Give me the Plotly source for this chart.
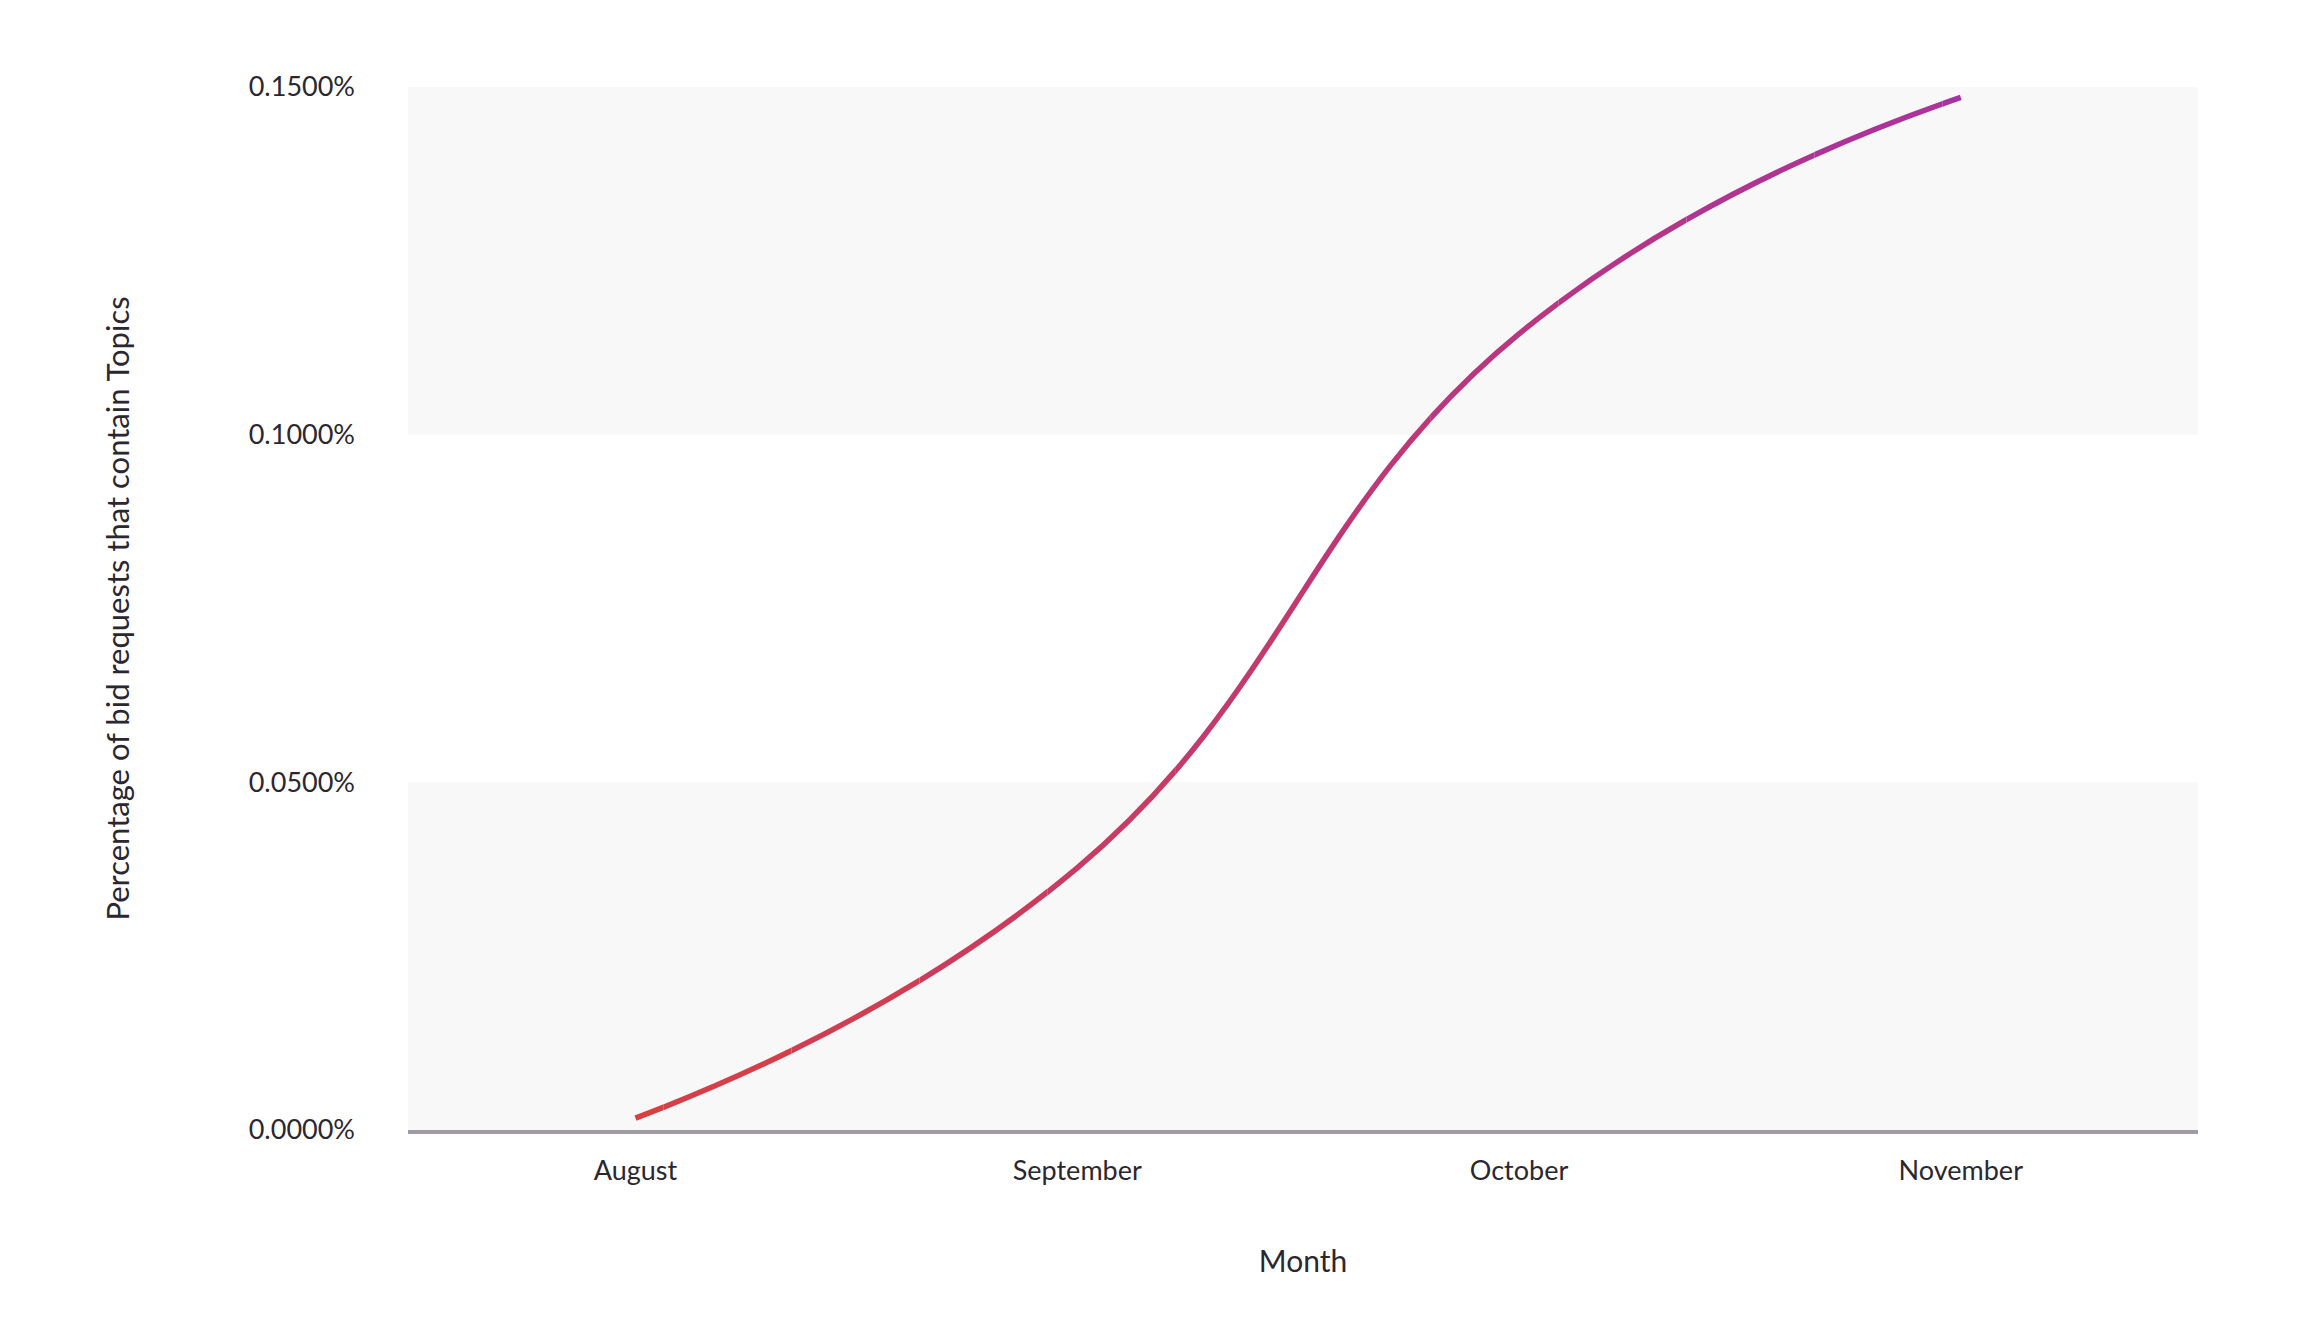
import plotly.graph_objects as go

# data (values in percent)
months = ["August", "September", "October", "November"]
topics_share = [0.0017, 0.0377, 0.1145, 0.1485]
y_ticks = [0.0, 0.05, 0.10, 0.15]

# styling
font_family = "Lato, 'Open Sans', sans-serif"
text_color = "#2b2730"
band_color = "#f8f8f8"
line_start = (224, 66, 52)
line_end = (160, 48, 176)
n_slices = 14
x_range = [-0.515, 3.537]

fig = go.Figure()

# empty trace so the main x/y subplot (ticks, axis line) gets drawn
x_pos = list(range(len(months)))
fig.add_trace(go.Scatter(x=[], y=[], showlegend=False, hoverinfo="skip"))

# the line has a left-to-right colour gradient; plotly has no line gradients,
# so the same spline is drawn on narrow side-by-side x-axes that each clip it
span = x_range[1] - x_range[0]
for i in range(n_slices):
    t = (i + 0.5) / n_slices
    rgb = tuple(round(a + (b - a) * t) for a, b in zip(line_start, line_end))
    ax = i + 2
    fig.add_trace(go.Scatter(
        x=x_pos, y=topics_share,
        mode="lines",
        line=dict(color="rgb(%d,%d,%d)" % rgb, width=5.5, shape="spline", smoothing=1.3),
        xaxis=f"x{ax}", yaxis="y",
        hoverinfo="skip",
        showlegend=False,
    ))
    fig.layout[f"xaxis{ax}"] = dict(
        domain=[i / n_slices, (i + 1) / n_slices],
        range=[x_range[0] + span * i / n_slices, x_range[0] + span * (i + 1) / n_slices],
        anchor="y", visible=False, fixedrange=True,
    )

# alternating background bands
for lo, hi in zip(y_ticks[0::2], y_ticks[1::2]):
    fig.add_shape(type="rect", xref="paper", yref="y", x0=0, x1=1, y0=lo, y1=hi,
                  fillcolor=band_color, line_width=0, layer="below")

fig.update_layout(
    width=2316, height=1338,
    margin=dict(l=400, r=126, t=79, b=216),
    paper_bgcolor="white", plot_bgcolor="rgba(0,0,0,0)",
    font=dict(family=font_family, color=text_color, size=27),
    xaxis=dict(
        range=x_range,
        tickvals=x_pos, ticktext=months,
        showgrid=False, zeroline=False,
        showline=True, linecolor="#a09ca6", linewidth=4,
        ticks="", ticklabelstandoff=14,
        title=dict(text="Month", font=dict(size=30), standoff=67),
    ),
    yaxis=dict(
        range=[y_ticks[0], y_ticks[-1]],
        tickvals=y_ticks, ticktext=[f"{v:.4f}%" for v in y_ticks],
        showgrid=False, zeroline=False, showline=False,
        ticks="", ticklabelstandoff=52,
        title=dict(text="Percentage of bid requests that contain Topics", font=dict(size=31), standoff=109),
    ),
)

fig.write_html("out.html")
